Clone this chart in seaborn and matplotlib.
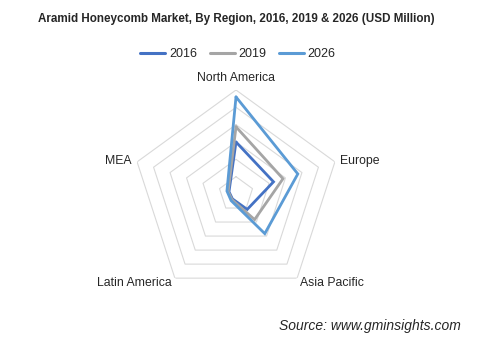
import numpy as np
import pandas as pd
import matplotlib
matplotlib.use("Agg")
import matplotlib.pyplot as plt
import seaborn as sns
from matplotlib.lines import Line2D

categories = ["North America", "Europe", "Asia Pacific", "Latin America", "MEA"]
years = ["2016", "2019", "2026"]
v2016 = [600, 455, 220, 70, 85]
v2019 = [775, 570, 365, 80, 95]
v2026 = [1120, 750, 565, 95, 110]
colors = ["#4472C4", "#A5A5A5", "#5B9BD5"]
title = "Aramid Honeycomb Market, By Region, 2016, 2019 & 2026 (USD Million)"
source = "Source: www.gminsights.com"

sns.set_style("white")
plt.rcParams["font.family"] = ["Liberation Sans", "DejaVu Sans"]

W, H = 486, 338
fig = plt.figure(figsize=(W / 100, H / 100), dpi=100)

cx, cy, R = 236, 194, 104
ax = fig.add_axes([(cx - R) / W, (H - cy - R) / H, 2 * R / W, 2 * R / H], projection="polar")
ax.set_theta_offset(np.pi / 2)
ax.set_theta_direction(-1)
rmax = 1200
ax.grid(False)
ax.spines["polar"].set_visible(False)
ax.patch.set_alpha(0)

n = len(categories)
thetas = np.linspace(0, 2 * np.pi, n, endpoint=False)
closed = np.append(thetas, thetas[0])

# pentagon gridlines
for lvl in range(200, rmax + 1, 200):
    ax.plot(closed, [lvl] * (n + 1), color="#d9d9d9", lw=0.8, zorder=1)

rows = []
for yr, vals in zip(years, [v2016, v2019, v2026]):
    for i in range(n + 1):
        rows.append({"theta": closed[i], "value": vals[i % n], "year": yr})
df = pd.DataFrame(rows)
sns.lineplot(data=df, x="theta", y="value", hue="year", sort=False, palette=colors,
             ax=ax, legend=False, lw=2.0, estimator=None)
for line in ax.get_lines()[-3:]:
    line.set_solid_joinstyle("miter")
    line.set_zorder(3)
ax.set_xlabel("")
ax.set_ylabel("")
ax.set_xticks([])
ax.set_yticks([])
ax.set_ylim(0, rmax)

# category labels
label_pos = [(236, 78, "center"), (340, 161, "left"), (300, 283, "left"),
             (172, 283, "right"), (131, 161, "right")]
for cat, (px, py, ha) in zip(categories, label_pos):
    fig.text(px / W, 1 - py / H, cat, ha=ha, va="center", fontsize=8.8, color="#262626")

fig.text(236 / W, 1 - 19 / H, title, ha="center", va="center", fontsize=8.4,
         fontweight="bold", color="#262626")

# legend
handles = [Line2D([0], [0], color=c, lw=2.2) for c in colors]
fig.legend(handles, years, loc="center", bbox_to_anchor=(238 / W, 1 - 54 / H), ncol=3,
           frameon=False, fontsize=9, handlelength=2.0, handletextpad=0.3,
           columnspacing=1.0, labelcolor="#262626")

fig.text(461 / W, 1 - 326 / H, source, ha="right", va="center", fontsize=10,
         style="italic", color="#262626")

fig.savefig("out.png", dpi=100, facecolor="white")
